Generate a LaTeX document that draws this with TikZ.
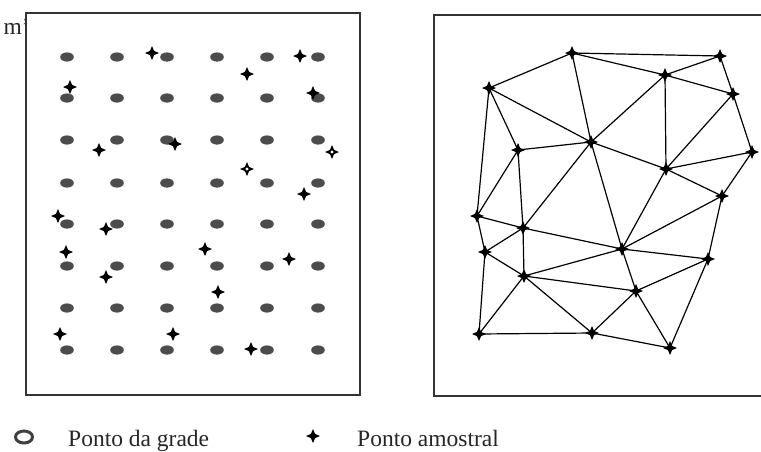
\documentclass[tikz,border=0pt]{standalone}
\usepackage{fontspec}
\setmainfont{Liberation Serif}
\begin{document}
\begin{tikzpicture}[x=1pt,y=-1pt,
  box/.style={draw=black!80,line width=1.8pt},
  edge/.style={draw=black,line width=1.2pt},
  lbl/.style={font=\fontsize{23.5}{28}\selectfont,inner sep=0pt,text=black!85},
  samp/.pic={\fill[black] (-7,0)--(-2.1,-2.1)--(0,-7)--(2.1,-2.1)--(7,0)--(2.1,2.1)--(0,7)--(-2.1,2.1)--cycle;},
  hsamp/.pic={\fill[black] (-7,0)--(-2.1,-2.1)--(0,-7)--(2.1,-2.1)--(7,0)--(2.1,2.1)--(0,7)--(-2.1,2.1)--cycle;
              \fill[white] (0,0) circle (1.6);}
]
\useasboundingbox (0,0) rectangle (761,451);
% partial label at top left
\node[lbl,anchor=base east] (mlab) at (30,34) {m'};
% left box
\draw[box,fill=white] (26,13) rectangle (360,395);
% grid points
\foreach \y in {57,98,140,183,224,266,308,350}
  \foreach \x in {67,117,167,217,267,318}
    \fill[black!70] (\x,\y) ellipse [x radius=6.8, y radius=4.6];
% left sample points
\foreach \x/\y in {152/53,300/56,247/74,70/87,313/93,99/150,175/144,304/194,58/216,106/229,66/252,205/249,289/259,106/277,218/292,60/334,173/334,251/349}
  \pic at (\x,\y) {samp};
\pic at (332,152) {hsamp};
\pic at (247,169) {hsamp};
% right box
\draw[box] (770,15) -- (434,15) -- (434,396) -- (770,396);
% triangulation vertices
\coordinate (A) at (572,53);
\coordinate (B) at (720,56);
\coordinate (C) at (665,75);
\coordinate (D) at (489,88);
\coordinate (E) at (733,94);
\coordinate (F) at (591,142);
\coordinate (G) at (518,150);
\coordinate (H) at (752,152);
\coordinate (I) at (666,169);
\coordinate (J) at (722,196);
\coordinate (K) at (477,216);
\coordinate (L) at (523,228);
\coordinate (M) at (485,252);
\coordinate (N) at (622,249);
\coordinate (O) at (708,259);
\coordinate (P) at (524,276);
\coordinate (Q) at (636,291);
\coordinate (R) at (479,334);
\coordinate (S) at (592,333);
\coordinate (T) at (670,348);
\foreach \a/\b in {A/B,A/D,A/C,A/F,B/C,B/E,C/E,C/F,C/I,D/G,D/F,D/K,G/F,G/L,G/K,F/L,F/N,F/I,E/I,E/H,I/H,I/J,H/J,I/N,J/N,J/O,K/L,K/M,L/N,L/M,L/P,M/P,M/R,N/O,N/P,N/Q,O/Q,O/T,P/Q,P/R,P/S,Q/S,Q/T,R/S,S/T}
  \draw[edge] (\a) -- (\b);
\foreach \n in {A,B,C,D,E,F,G,H,I,J,K,L,M,N,O,P,Q,R,S,T}
  \pic at (\n) {samp};
% legend
\draw[black!75,line width=3pt] (24,437) ellipse [x radius=8.5, y radius=6];
\node[lbl,anchor=base west] (lg1) at (68,446) {Ponto da grade};
\pic at (313,436) {samp};
\node[lbl,anchor=base west] (lg2) at (357,446) {Ponto amostral};
\end{tikzpicture}
\end{document}
